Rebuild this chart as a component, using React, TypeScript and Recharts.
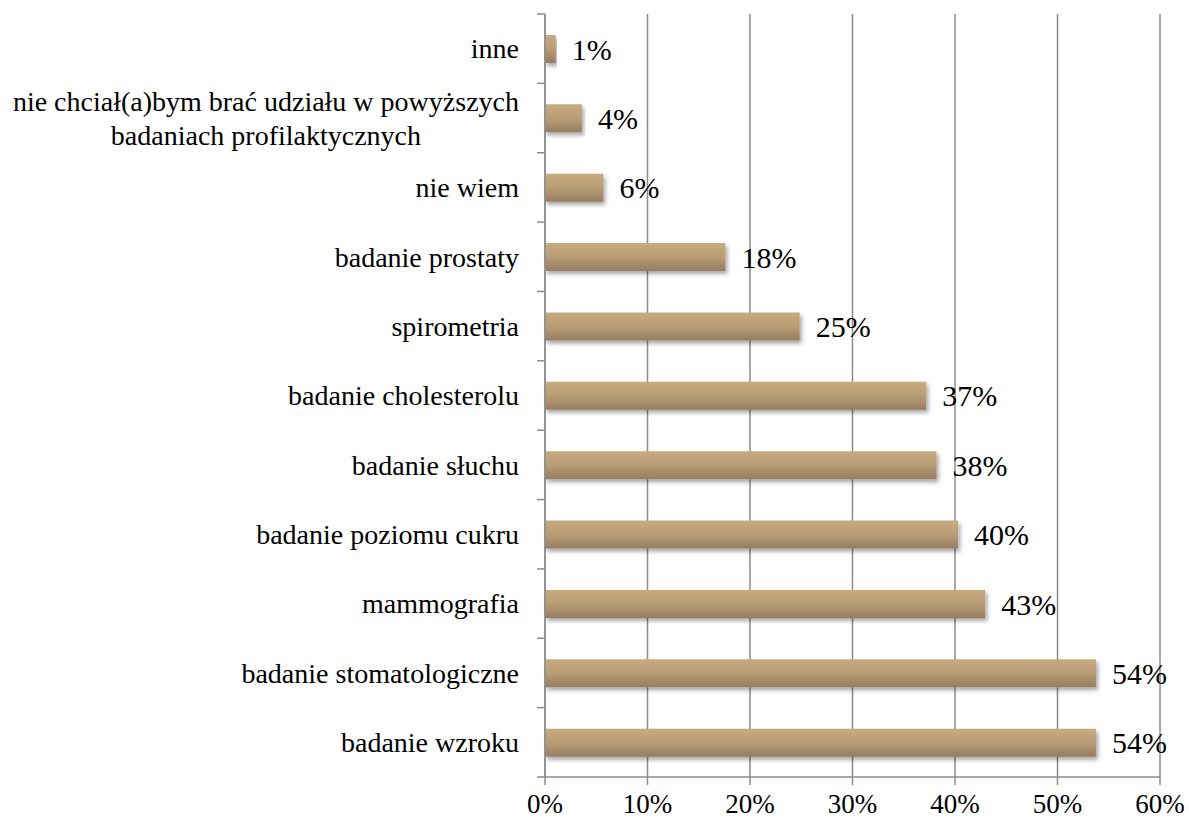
import React from "react";
import {
  BarChart,
  Bar,
  XAxis,
  YAxis,
  CartesianGrid,
  LabelList,
} from "recharts";

// categories top -> bottom, values in percent
const categories = [
  "inne",
  "nie chciał(a)bym brać udziału w powyższych\nbadaniach profilaktycznych",
  "nie wiem",
  "badanie prostaty",
  "spirometria",
  "badanie cholesterolu",
  "badanie słuchu",
  "badanie poziomu cukru",
  "mammografia",
  "badanie stomatologiczne",
  "badanie wzroku",
];
const values = [1.05, 3.6, 5.7, 17.6, 24.85, 37.2, 38.2, 40.3, 42.95, 53.75, 53.75];
const xTicks = [0, 10, 20, 30, 40, 50, 60];

const FONT = "Liberation Serif";
const CAT_SIZE = 28;
const GREY = "#8c8c8c";
const W = 1189;
const H = 822;
const TOP = 14;
const X_AXIS_H = 45;
const TICK = 8;
const TICK_GAP = 18;

const measure = (txt: string, size: number) => {
  const c = document.createElement("canvas").getContext("2d");
  if (!c) return txt.length * size * 0.45;
  c.font = `${size}px "${FONT}"`;
  return c.measureText(txt).width;
};

const CategoryTick = (props: any) => {
  const { x, y, payload, index, visibleTicksCount } = props;
  const n = visibleTicksCount || categories.length;
  const rowH = (H - TOP - X_AXIS_H) / n;
  const ax = x + TICK + TICK_GAP;
  const lines: string[] = String(payload.value).split("\n");
  // small tick marks at the row boundaries, as in the original
  const marks = (
    <g stroke={GREY} strokeWidth={1.5}>
      <line x1={ax - TICK} x2={ax} y1={y - rowH / 2} y2={y - rowH / 2} />
      {index === n - 1 && <line x1={ax - TICK} x2={ax} y1={y + rowH / 2} y2={y + rowH / 2} />}
    </g>
  );
  if (lines.length === 1) {
    return (
      <g>
        {marks}
        <text x={x} y={y} dy="0.35em" textAnchor="end" fontSize={CAT_SIZE} fill="#000" fontFamily={FONT}>
          {lines[0]}
        </text>
      </g>
    );
  }
  const w = Math.max(...lines.map((l) => measure(l, CAT_SIZE)));
  const cx = x - w / 2;
  const lh = 34;
  return (
    <g>
      {marks}
      <text textAnchor="middle" fontSize={CAT_SIZE} fill="#000" fontFamily={FONT}>
        {lines.map((l, i) => (
          <tspan key={i} x={cx} y={y + (i - (lines.length - 1) / 2) * lh} dy="0.35em">
            {l}
          </tspan>
        ))}
      </text>
    </g>
  );
};

const data = categories.map((name, i) => ({ name, value: values[i] }));

export default function App() {
  return (
    <div style={{ position: "absolute", left: 0, top: 0, fontFamily: FONT }}>
      <BarChart
        width={W}
        height={H}
        layout="vertical"
        data={data}
        margin={{ top: TOP, right: 29, bottom: 0, left: 0 }}
      >
        <defs>
          <linearGradient id="barGrad" x1="0" y1="0" x2="0" y2="1">
            <stop offset="0%" stopColor="#c9ab80" />
            <stop offset="50%" stopColor="#b89c75" />
            <stop offset="100%" stopColor="#967d60" />
          </linearGradient>
          <filter id="shadow" x="-5%" y="-30%" width="115%" height="180%">
            <feDropShadow dx="2" dy="3" stdDeviation="2" floodColor="#000" floodOpacity="0.35" />
          </filter>
        </defs>
        <CartesianGrid horizontal={false} stroke={GREY} strokeWidth={1.5} />
        <XAxis
          type="number"
          domain={[0, 60]}
          ticks={xTicks}
          tickFormatter={(v) => `${v}%`}
          height={X_AXIS_H}
          tickSize={TICK}
          tickMargin={9}
          stroke={GREY}
          strokeWidth={1.5}
          tick={{ fill: "#000", fontSize: 27, fontFamily: FONT }}
        />
        <YAxis
          type="category"
          dataKey="name"
          width={545}
          stroke={GREY}
          strokeWidth={1.5}
          tickLine={false}
          tickSize={TICK}
          tickMargin={TICK_GAP}
          interval={0}
          tick={<CategoryTick />}
        />
        <Bar
          dataKey="value"
          barSize={28}
          fill="url(#barGrad)"
          filter="url(#shadow)"
          isAnimationActive={false}
        >
          <LabelList
            dataKey="value"
            position="right"
            offset={16}
            formatter={(v: any) => `${Math.round(Number(v))}%`}
            style={{ fill: "#000", fontSize: 30, fontFamily: FONT }}
          />
        </Bar>
      </BarChart>
    </div>
  );
}
